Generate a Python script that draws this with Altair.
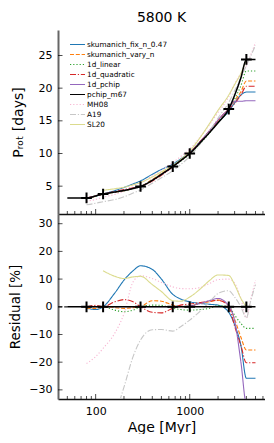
import altair as alt
import pandas as pd

# ---------------- data ----------------
NAMES = ["skumanich_fix_n_0.47", "skumanich_vary_n", "1d_linear", "1d_quadratic",
         "1d_pchip", "pchip_m67", "MH08", "A19", "SL20"]
COLORS = ["#1f77b4", "#ff7f0e", "#2ca02c", "#d62728", "#9467bd", "#000000",
          "#f7b6d2", "#c7c7c7", "#dbdb8d"]
DASHES = [[1, 0], [4, 1.8], [1.2, 2], [6, 1.8, 1.2, 1.8], [1, 0], [1, 0],
          [1.2, 2], [6, 1.8, 1.2, 1.8], [1, 0]]

AGES = [80, 100, 120, 160, 200, 250, 300, 400, 500, 660, 800, 1000, 1300, 1600,
        2000, 2600, 3000, 3500, 4000, 4400, 5000]

REF_AGES = [50, 80, 100, 120, 160, 200, 250, 300, 400, 500, 660, 800, 1000, 1300,
            1600, 2000, 2600, 3000, 3500, 4000, 4400, 5000]
REF_PROT = [3.2, 3.2, 3.5, 3.8, 4.1, 4.35, 4.65, 4.95, 5.9, 6.8, 8.0, 8.9, 10.0, 11.7,
            13.1, 14.7, 16.8, 18.9, 21.6, 24.4, 24.4, 24.4]
REF_RES_AGES = [50, 5000]
REF_RES = [0, 0]
ZERO_DASH_AGES = [40, 50]
ZERO_DASH = [0, 0]

SKU_FIX_P = [3.18, 3.47, 3.8, 4.32, 4.81, 5.34, 5.81, 6.82, 7.56, 8.38, 9.16, 10.18,
             11.84, 13.22, 14.79, 16.47, 17.75, 18.95, 19.4, 19.4, 19.4]
SKU_FIX_R = [-0.5, -1.0, 0, 5, 9.6, 13, 14.8, 13.5, 10, 4.5, 2.8, 1.8, 1.2, 0.9, 0.6,
             -2, -6.5, -14, -25.8, -25.8, -25.8]

SKU_VARY_P = [3.18, 3.48, 3.8, 4.09, 4.32, 4.64, 4.95, 6.03, 6.94, 8.05, 8.9, 10.03,
              11.84, 13.34, 15.06, 16.88, 18.09, 19.46, 21.1, 21.1, 21.1]
SKU_VARY_R = [-0.5, -0.6, 0, -0.3, -0.6, -0.3, 0, 2.2, 2.0, 0.6, 0, 0.3, 1.2, 1.8, 2.4,
              0.5, -4.5, -11, -15.6, -15.6, -15.6]

LIN_P = [3.2, 3.5, 3.8, 4.05, 4.27, 4.59, 4.95, 5.94, 6.83, 7.96, 8.81, 9.88, 11.58,
         13.02, 14.76, 16.8, 18.35, 20.38, 22.63, 22.63, 22.63]
LIN_R = [0, 0, 0, -1.2, -1.8, -1.2, 0, 0.6, 0.5, -0.5, -1.0, -1.2, -1.0, -0.6, 0.4, 0,
         -3, -6, -7.8, -7.8, -7.8]

QUAD_P = [3.2, 3.52, 3.8, 4.18, 4.47, 4.74, 4.95, 5.78, 6.65, 7.96, 8.95, 10.1, 11.88,
          13.37, 15.05, 16.85, 17.66, 18.95, 20.3, 20.3, 20.3]
QUAD_R = [0, 0.5, 0, 1.8, 2.6, 1.8, 0, -2.0, -2.2, -0.5, 0.6, 1.0, 1.5, 2.0, 2.3, 0.3,
          -7, -14, -20.2, -20.2, -20.2]

PCHIP_P = [3.2, 3.5, 3.8, 4.1, 4.35, 4.65, 4.95, 5.9, 6.8, 8.0, 8.9, 10.03, 11.84,
           13.39, 15.15, 16.85, 18.0, 18.0, 18.07, 18.07, 18.07]
PCHIP_R = [0, 0, 0, 0, 0, 0, 0, 0, 0, 0, 0, 0.3, 1.2, 2.2, 3.0, 0.3, -5, -20, -35,
           -35, -35]

MH08_P = [2.66, 2.97, 3.30, 3.74, 4.24, 5.11, 5.57, 6.57, 7.46, 8.62, 9.53, 10.7,
          12.58, 14.29, 16.3, 18.67, 20.66, 22.27, 23.46, 24.9, 26.99]
MH08_R = [-20.5, -18, -15, -9.5, -2.5, 9, 11.2, 10.2, 8.8, 7.2, 6.6, 6.5, 7, 8.3, 9.8,
          10, 8.5, 3, -4, 2, 9.6]

A19_P = [2.16, 2.38, 2.62, 2.95, 3.37, 3.94, 4.42, 5.45, 6.28, 7.35, 8.3, 9.54, 11.53,
         13.3, 15.44, 17.83, 19.59, 21.6, 23.46, 24.77, 26.52]
A19_R = [-48, -47, -45, -39, -29, -18, -12, -8.3, -8.2, -8.8, -7.2, -4.8, -1.5, 1.5,
         4.8, 5.8, 3.5, 0, -4, 1.5, 8]

SL20_AGES = [120, 160, 200, 250, 300, 400, 500, 660, 800, 1000, 1300, 1600, 2000, 2600,
             3000, 3500, 4000]
SL20_P = [4.37, 4.61, 4.84, 5.21, 5.56, 6.41, 7.2, 8.18, 9.08, 10.36, 12.51, 14.44,
          16.61, 18.94, 20.54, 22.27, 24.4]
SL20_R = [13, 11, 10.2, 10.8, 11, 8, 5.5, 2.2, 2.0, 3.5, 6.5, 9.3, 11.5, 11.3, 8, 3, 0]

CLUSTER_AGES = [80, 120, 300, 660, 1000, 2600, 4000]
CLUSTER_PROT = [3.2, 3.8, 4.95, 8.0, 10.0, 16.8, 24.4]
CLUSTER_RES = [0, 0, 0, 0, 0, 0, 0]

X_MINOR = [50, 60, 70, 80, 90, 200, 300, 400, 500, 600, 700, 800, 900,
           2000, 3000, 4000, 5000, 6000]
X_MAJOR = [100, 1000]
Y_TOP_TICKS = [5, 10, 15, 20, 25]
Y_BOT_TICKS = [-30, -20, -10, 0, 10, 20, 30]


def series(ages, vals, name, col):
    return pd.DataFrame({"age": ages, col: vals, "model": name})


top_models = [
    (AGES, SKU_FIX_P, NAMES[0]), (AGES, SKU_VARY_P, NAMES[1]), (AGES, LIN_P, NAMES[2]),
    (AGES, QUAD_P, NAMES[3]), (AGES, PCHIP_P, NAMES[4]), (AGES, MH08_P, NAMES[6]),
    (AGES, A19_P, NAMES[7]), (SL20_AGES, SL20_P, NAMES[8]),
]
res_models = [
    (AGES, SKU_FIX_R, NAMES[0]), (AGES, SKU_VARY_R, NAMES[1]), (AGES, LIN_R, NAMES[2]),
    (AGES, QUAD_R, NAMES[3]), (AGES, PCHIP_R, NAMES[4]), (AGES, MH08_R, NAMES[6]),
    (AGES, A19_R, NAMES[7]), (SL20_AGES, SL20_R, NAMES[8]),
]
top_df = pd.concat([series(a, v, n, "prot") for a, v, n in top_models])
res_df = pd.concat([series(a, v, n, "resid") for a, v, n in res_models])
ref_top = pd.DataFrame({"age": REF_AGES, "prot": REF_PROT})
ref_res = pd.DataFrame({"age": REF_RES_AGES, "resid": REF_RES})
zero_dash = pd.DataFrame({"age": ZERO_DASH_AGES, "resid": ZERO_DASH})
cl_top = pd.DataFrame({"age": CLUSTER_AGES, "prot": CLUSTER_PROT})
cl_res = pd.DataFrame({"age": CLUSTER_AGES, "resid": CLUSTER_RES})
xminor = pd.DataFrame({"age": X_MINOR})
xmajor = pd.DataFrame({"age": X_MAJOR})
ytop = pd.DataFrame({"prot": Y_TOP_TICKS})
ybot = pd.DataFrame({"resid": Y_BOT_TICKS})

# ---------------- styling ----------------
W, H1, H2 = 207, 184, 185
FONT = "DejaVu Sans"
xscale = alt.Scale(type="log", domain=[39.8, 6310], nice=False)
ytop_scale = alt.Scale(domain=[0.74, 28.9], nice=False, zero=False)
ybot_scale = alt.Scale(domain=[-33.3, 33.5], nice=False, zero=False)
color_scale = alt.Scale(domain=NAMES, range=COLORS)
dash_scale = alt.Scale(domain=NAMES, range=DASHES)

xaxis_top = alt.Axis(title=None, labels=False, ticks=False, grid=False,
                     domainColor="#111111", domainWidth=1.5)
xaxis_bot = alt.Axis(title="Age [Myr]", values=X_MAJOR, format="d", ticks=False,
                     grid=False, labelFontSize=11, labelPadding=6,
                     titleFontSize=14, titleFontWeight="normal", titlePadding=4,
                     domainColor="#111111", domainWidth=1.5)
yaxis_top = alt.Axis(title="Pᵣₒₜ [days]", values=Y_TOP_TICKS, ticks=False, grid=False,
                     labelFontSize=11, labelPadding=6, titleFontSize=14,
                     titleFontWeight="normal", titleX=-33, titleY=H1 / 2,
                     domainColor="#666666", domainWidth=2)
yaxis_bot = alt.Axis(title="Residual [%]", values=Y_BOT_TICKS, ticks=False, grid=False,
                     labelFontSize=11, labelPadding=6, titleFontSize=13.5,
                     titleFontWeight="normal", titleX=-36, titleY=H2 / 2,
                     domainColor="#666666", domainWidth=2)

legend = alt.Legend(orient="none", legendX=15, legendY=10, title=None,
                    symbolType="M-2,0H2", symbolSize=56, symbolStrokeWidth=1.2,
                    symbolFillColor="transparent",
                    labelFontSize=7.3, labelFont=FONT, labelColor="black",
                    rowPadding=2, labelOffset=5, padding=0)

CROSS = "M-1,0L1,0M0,-1L0,1"


def panel(df, ref, ref_dash, clusters, col, yscale, yaxis, xaxis, yticks, H, show_legend):
    X = alt.X("age:Q", scale=xscale, axis=xaxis)
    Y = alt.Y(f"{col}:Q", scale=yscale, axis=yaxis)
    lines = alt.Chart(df).mark_line(interpolate="monotone", strokeWidth=1.1, clip=True).encode(
        x=X, y=Y,
        color=alt.Color("model:N", scale=color_scale,
                        legend=legend if show_legend else None),
        strokeDash=alt.StrokeDash("model:N", scale=dash_scale,
                                  legend=legend if show_legend else None),
    )
    layers = [lines]
    if ref_dash is not None:
        layers.insert(0, alt.Chart(ref_dash).mark_line(
            color="#222222", strokeWidth=1.2, strokeDash=[4, 2]).encode(x=X, y=Y))
    layers.append(alt.Chart(ref).mark_line(
        interpolate="monotone", color="black", strokeWidth=1.5, clip=True).encode(x=X, y=Y))
    layers.append(alt.Chart(clusters).mark_point(
        shape=CROSS, size=115, filled=False, color="black", strokeWidth=2,
        opacity=1).encode(x=X, y=Y))
    layers.append(alt.Chart(xminor).mark_tick(color="black", thickness=1, size=3).encode(
        x=X, y=alt.value(H - 1.5)))
    layers.append(alt.Chart(xmajor).mark_tick(color="black", thickness=1, size=5).encode(
        x=X, y=alt.value(H - 2.5)))
    layers.append(alt.Chart(yticks).mark_tick(color="black", thickness=1, size=4.5).encode(
        y=Y, x=alt.value(2.25)))
    return alt.layer(*layers).properties(width=W, height=H)


top = panel(top_df, ref_top, None, cl_top, "prot", ytop_scale, yaxis_top, xaxis_top,
            ytop, H1, True).properties(
    title=alt.Title("5800 K", fontSize=14, font=FONT, fontWeight="normal",
                    anchor="middle", frame="group", offset=5, color="black"))
bot = panel(res_df, ref_res, zero_dash, cl_res, "resid", ybot_scale, yaxis_bot, xaxis_bot,
            ybot, H2, False)

chart = alt.vconcat(top, bot, spacing=0, bounds="flush").resolve_scale(
    color="independent", strokeDash="independent"
).properties(padding={"left": 0, "top": 3, "right": 0, "bottom": 0}).configure_view(
    stroke=None
).configure_axis(
    labelFont=FONT, titleFont=FONT, labelColor="black", titleColor="black"
)

chart.save("out.html", embed_options={"renderer": "svg", "actions": False})
